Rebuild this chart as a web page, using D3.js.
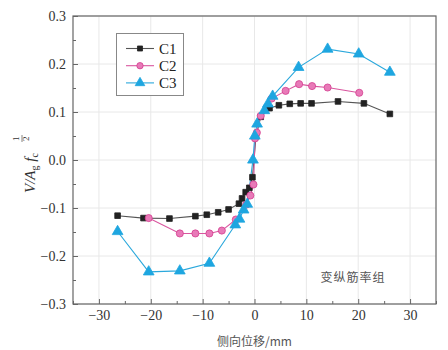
<!DOCTYPE html>
<html><head><meta charset="utf-8">
<script src="https://cdn.jsdelivr.net/npm/d3@7"></script>
<style>body{margin:0;background:#fff}svg{display:block}</style>
</head><body>
<script>
const c1X = [-26.4,-21.4,-16.4,-11.4,-9.2,-7.0,-5.0,-3.0,-2.4,-1.7,-1.0,-0.4,0.3,1.2,2.9,4.7,6.8,8.9,11.0,16.1,21.1,26.1];
const c1Y = [-0.116,-0.121,-0.122,-0.117,-0.114,-0.109,-0.103,-0.091,-0.080,-0.067,-0.058,-0.036,0.050,0.090,0.108,0.114,0.117,0.118,0.118,0.122,0.118,0.096];
const c2X = [-20.4,-14.4,-11.4,-8.7,-6.3,-3.6,-1.6,-0.8,-0.2,0.1,0.45,1.2,3.3,6.0,8.6,11.1,14.1,20.2];
const c2Y = [-0.121,-0.153,-0.153,-0.153,-0.147,-0.124,-0.093,-0.074,-0.051,0.045,0.057,0.092,0.128,0.144,0.158,0.154,0.151,0.140];
const c3X = [-26.4,-20.4,-14.4,-8.7,-3.7,-2.9,-2.1,-1.4,-0.3,0.06,0.5,1.9,2.6,3.5,8.5,14.1,20.1,26.1];
const c3Y = [-0.149,-0.233,-0.231,-0.215,-0.135,-0.123,-0.104,-0.092,0.0,0.050,0.075,0.103,0.117,0.133,0.193,0.231,0.221,0.183];
const seriesNames = ["C1","C2","C3"];
const xTicks = [-30,-20,-10,0,10,20,30];
const yTicks = [-0.3,-0.2,-0.1,0.0,0.1,0.2,0.3];
const xLabel = "侧向位移/mm";
const note = "变纵筋率组";

const W=448,H=350;
const L=73,R=436,T=16,B=304;
const svg=d3.select("body").append("svg").attr("width",W).attr("height",H);
const x=d3.scaleLinear().domain([-35,35]).range([L,R]);
const y=d3.scaleLinear().domain([-0.3,0.3]).range([B,T]);
const serif="'Liberation Serif','Times New Roman',serif";
const axisCol="#666";

// grid
svg.append("g").selectAll("line").data(xTicks).join("line")
  .attr("x1",d=>x(d)).attr("x2",d=>x(d)).attr("y1",T).attr("y2",B)
  .attr("stroke","#e8e8e8").attr("stroke-width",1);
svg.append("g").selectAll("line").data(yTicks).join("line")
  .attr("y1",d=>y(d)).attr("y2",d=>y(d)).attr("x1",L).attr("x2",R)
  .attr("stroke","#e8e8e8").attr("stroke-width",1);

// axes
const xAxis=d3.axisBottom(x).tickValues(xTicks).tickSizeInner(-5).tickSizeOuter(0).tickPadding(6).tickFormat(d3.format("d"));
const gx=svg.append("g").attr("transform",`translate(0,${B})`).call(xAxis);
const xMinor=d3.axisBottom(x).tickValues(d3.range(-35,36,5).filter(v=>v%10!==0)).tickSize(-3).tickFormat("");
const gxm=svg.append("g").attr("transform",`translate(0,${B})`).call(xMinor);
const yAxis=d3.axisLeft(y).tickValues(yTicks).tickSizeInner(-5).tickSizeOuter(0).tickPadding(7).tickFormat(d3.format(".1f"));
const gy=svg.append("g").attr("transform",`translate(${L},0)`).call(yAxis);
const yMinor=d3.axisLeft(y).tickValues([-0.25,-0.15,-0.05,0.05,0.15,0.25]).tickSize(-3).tickFormat("");
const gym=svg.append("g").attr("transform",`translate(${L},0)`).call(yMinor);
[gx,gxm,gy,gym].forEach(g=>{
  g.selectAll("path").remove();
  g.selectAll("line").attr("stroke",axisCol);
  g.selectAll("text").attr("font-family",serif).attr("font-size",14).attr("fill","#333");
});
// frame
svg.append("rect").attr("x",L).attr("y",T).attr("width",R-L).attr("height",B-T)
  .attr("fill","none").attr("stroke",axisCol).attr("stroke-width",1.2);

// series
const series=[
  {name:seriesNames[0],xs:c1X,ys:c1Y,line:"#555",fill:"#222",stroke:"#222",shape:d3.symbolSquare,size:32},
  {name:seriesNames[1],xs:c2X,ys:c2Y,line:"#d9569f",fill:"#e87ab8",stroke:"#d43d8f",shape:d3.symbolCircle,size:40},
  {name:seriesNames[2],xs:c3X,ys:c3Y,line:"#2aa8dc",fill:"#1ea6e0",stroke:"#1ea6e0",shape:d3.symbolTriangle,size:50}
];
const line=d3.line().x(d=>x(d[0])).y(d=>y(d[1]));
series.forEach(s=>{
  const pts=s.xs.map((v,i)=>[v,s.ys[i]]);
  svg.append("path").datum(pts).attr("d",line).attr("fill","none").attr("stroke",s.line).attr("stroke-width",1.1);
});
series.forEach(s=>{
  const pts=s.xs.map((v,i)=>[v,s.ys[i]]);
  svg.append("g").selectAll("path").data(pts).join("path")
    .attr("d",d3.symbol(s.shape,s.size))
    .attr("transform",d=>`translate(${x(d[0])},${y(d[1])})`)
    .attr("fill",s.fill).attr("stroke",s.stroke).attr("stroke-width",0.8);
});

// legend
const lg=svg.append("g");
lg.append("rect").attr("x",116.5).attr("y",33.5).attr("width",67).attr("height",62)
  .attr("fill","#fff").attr("stroke","#888").attr("stroke-width",1);
series.forEach((s,i)=>{
  const yy=48.5+i*17.2;
  lg.append("line").attr("x1",126).attr("x2",154).attr("y1",yy).attr("y2",yy).attr("stroke",s.line).attr("stroke-width",1.1);
  lg.append("path").attr("d",d3.symbol(s.shape,s.size*0.8)).attr("transform",`translate(140,${yy})`)
    .attr("fill",s.fill).attr("stroke",s.stroke).attr("stroke-width",0.8);
  lg.append("text").attr("x",159).attr("y",yy+5).text(s.name)
    .attr("font-family",serif).attr("font-size",15).attr("fill","#222");
});

// x label
svg.append("text").attr("x",x(0)).attr("y",346).attr("text-anchor","middle")
  .attr("font-family","'Noto Sans CJK SC',sans-serif").attr("font-size",12).attr("fill","#555").text(xLabel);
// note
svg.append("text").attr("x",353).attr("y",282).attr("text-anchor","middle")
  .attr("font-family","'Noto Sans CJK SC',sans-serif").attr("font-size",12).attr("fill","#555")
  .attr("letter-spacing",1).text(note);

// y label
const yl=svg.append("g").attr("transform","translate(35,193) rotate(-90)")
  .attr("font-family",serif).attr("fill","#333");
const t=yl.append("text").attr("x",0).attr("y",0).attr("font-size",15);
t.append("tspan").attr("font-style","italic").text("V/A");
t.append("tspan").attr("font-size",10).attr("dy",3).text("g");
t.append("tspan").attr("font-style","italic").attr("dy",-3).text(" f");
t.append("tspan").attr("font-size",10).attr("dy",3).text("c");
// stacked 1/2 exponent
yl.append("text").attr("x",52).attr("y",-16).attr("font-size",9).text("1");
yl.append("text").attr("x",52).attr("y",-6).attr("font-size",9).text("2");
yl.append("line").attr("x1",51).attr("x2",58).attr("y1",-13).attr("y2",-13).attr("stroke","#333").attr("stroke-width",0.6);
</script>
</body></html>
